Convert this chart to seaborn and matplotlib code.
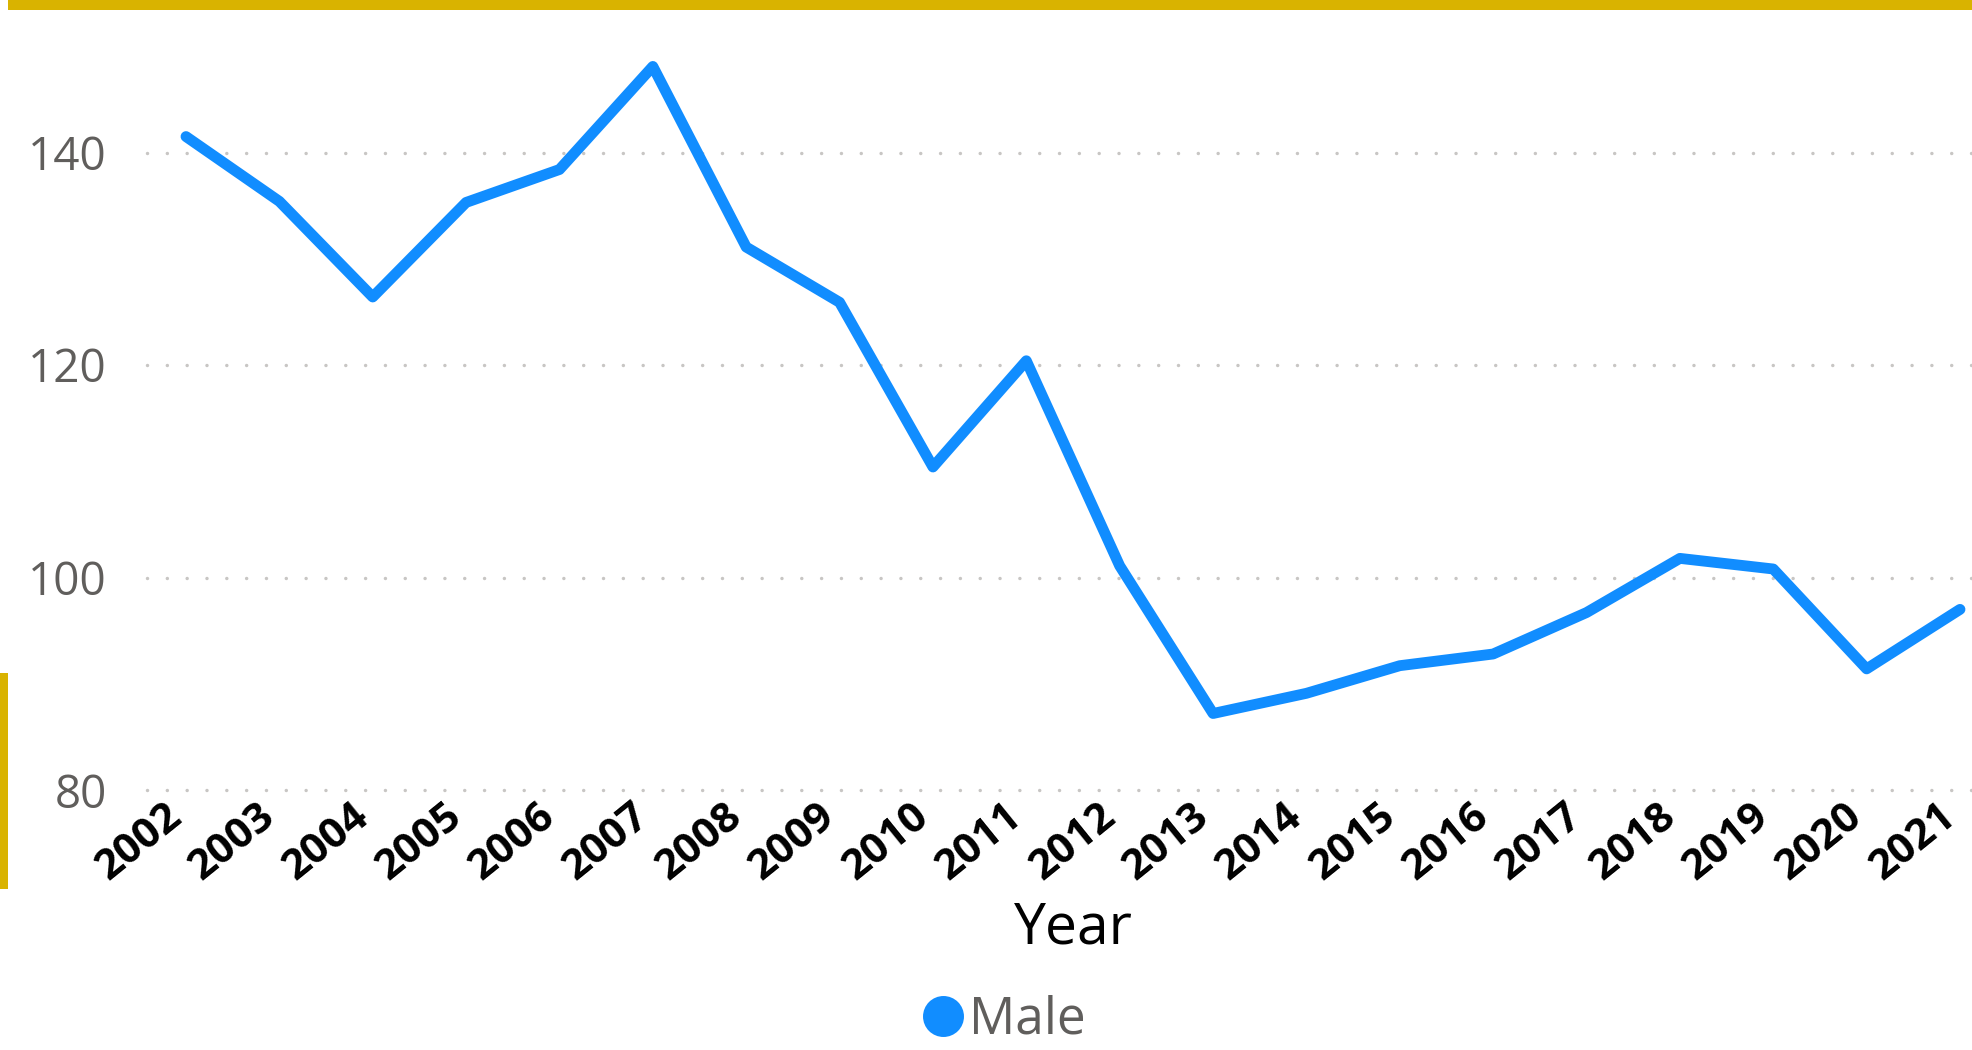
import matplotlib
matplotlib.use('Agg')
import matplotlib.pyplot as plt
import seaborn as sns
import pandas as pd
from matplotlib.transforms import ScaledTranslation
from matplotlib.lines import Line2D
from matplotlib.patches import Rectangle

# ---- data ----
years = list(range(2002, 2022))
male = [141.5, 135.4, 126.4, 135.3, 138.4, 148.1, 131.1, 125.9, 110.4, 120.4,
        101.1, 87.2, 89.1, 91.7, 92.8, 96.7, 101.8, 100.8, 91.4, 97.0]
yticks = [80, 100, 120, 140]
series_name = "Male"
x_title = "Year"

LINE_COLOR = "#118DFF"
YELLOW = "#D9B300"
GRAY_TXT = "#605E5C"
GRID = "#C8C6C4"

sns.set_theme(style="white")
plt.rcParams['font.family'] = ['Open Sans', 'DejaVu Sans']

W, H = 1972, 1050
fig = plt.figure(figsize=(W / 100, H / 100), dpi=100)
fig.patch.set_facecolor("white")

# axes placement (pixels -> fractions)
left_px, right_px = 147, 1972
y80_px = 790
px_per_unit = 10.625
ymin, ymax = 80, 152
top_px = y80_px - (ymax - ymin) * px_per_unit
ax = fig.add_axes([left_px / W, 1 - y80_px / H, (right_px - left_px) / W, (y80_px - top_px) / H])

df = pd.DataFrame({"Year": years, "Value": male, "Series": series_name})
sns.lineplot(data=df, x="Year", y="Value", color=LINE_COLOR, linewidth=7.8,
             ax=ax, legend=False, solid_capstyle="round", solid_joinstyle="round",
             clip_on=False)

step = (1960 - 186) / 19.0
ax.set_xlim(2002 - (186 - left_px) / step, 2021 + (right_px - 1960) / step)
ax.set_ylim(ymin, ymax)

ax.set_yticks(yticks)
ax.set_yticklabels([str(v) for v in yticks])
ax.set_xticks(years)
ax.set_xticklabels([str(y) for y in years])

for s in ax.spines.values():
    s.set_visible(False)

ax.grid(axis="y", color=GRID, linestyle=(0, (0.01, 5.7)), linewidth=2.5,
        dash_capstyle="round")
ax.grid(axis="x", visible=False)
for gl in ax.get_ygridlines():
    gl.set_dash_capstyle("round")
    gl.set_clip_on(False)
ax.set_axisbelow(True)

ax.tick_params(axis="y", length=0, pad=29, labelsize=33, labelcolor=GRAY_TXT)
ax.tick_params(axis="x", length=0, pad=4, labelsize=30.5, labelcolor="black")
off = ScaledTranslation(-22 / 100, 0, fig.dpi_scale_trans)
for lab in ax.get_xticklabels():
    lab.set_rotation(39)
    lab.set_ha("right")
    lab.set_va("top")
    lab.set_rotation_mode("anchor")
    lab.set_fontweight("bold")
    lab.set_transform(lab.get_transform() + off)

ax.set_xlabel("")
ax.set_ylabel("")
fig.text(1073 / W, 1 - 929 / H, x_title, ha="center", va="center",
         fontsize=41, color="black", fontweight="medium")

# legend
handle = Line2D([], [], marker="o", linestyle="", markersize=29.5,
                markerfacecolor=LINE_COLOR, markeredgewidth=0)
leg = fig.legend([handle], [series_name], loc="center",
                 bbox_to_anchor=(1004 / W, 1 - 1020 / H), frameon=False,
                 fontsize=37, handletextpad=0.12, handlelength=0.8,
                 borderpad=0, borderaxespad=0)
for t in leg.get_texts():
    t.set_color(GRAY_TXT)

# decorative yellow bars
fig.patches.append(Rectangle((8 / W, 1 - 10 / H), 1 - 8 / W, 10 / H,
                             transform=fig.transFigure, facecolor=YELLOW,
                             edgecolor="none", zorder=0))
fig.patches.append(Rectangle((0, 1 - 889 / H), 8 / W, (889 - 673) / H,
                             transform=fig.transFigure, facecolor=YELLOW,
                             edgecolor="none", zorder=0))

fig.savefig("out.png", dpi=100, facecolor="white")
